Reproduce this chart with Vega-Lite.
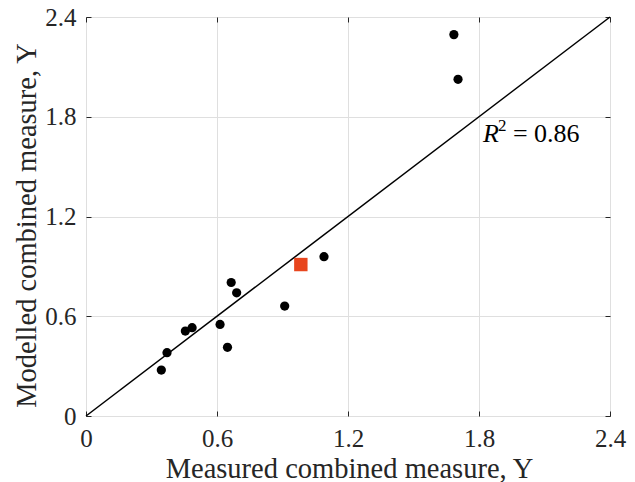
{
  "$schema": "https://vega.github.io/schema/vega-lite/v6.json",
  "width": 524,
  "height": 399,
  "autosize": "none",
  "padding": {"left": 86, "top": 17, "right": 25, "bottom": 66},
  "background": "white",
  "config": {
    "view": {"stroke": "#262626", "strokeWidth": 1},
    "font": "Liberation Serif"
  },
  "datasets": {
    "points": [
      {"measured": 1.685, "modelled": 2.294, "kind": "sample"},
      {"measured": 1.704, "modelled": 2.025, "kind": "sample"},
      {"measured": 1.090, "modelled": 0.958, "kind": "sample"},
      {"measured": 0.665, "modelled": 0.803, "kind": "sample"},
      {"measured": 0.690, "modelled": 0.741, "kind": "sample"},
      {"measured": 0.910, "modelled": 0.661, "kind": "sample"},
      {"measured": 0.614, "modelled": 0.551, "kind": "sample"},
      {"measured": 0.486, "modelled": 0.531, "kind": "sample"},
      {"measured": 0.455, "modelled": 0.511, "kind": "sample"},
      {"measured": 0.648, "modelled": 0.413, "kind": "sample"},
      {"measured": 0.371, "modelled": 0.381, "kind": "sample"},
      {"measured": 0.345, "modelled": 0.276, "kind": "sample"},
      {"measured": 0.984, "modelled": 0.911, "kind": "highlight"}
    ],
    "line": [
      {"measured": 0, "modelled": 0},
      {"measured": 2.4, "modelled": 2.4}
    ],
    "ann": [
      {"measured": 1.818, "modelled": 1.648, "r": "R", "sup": "2", "rest": "= 0.86"}
    ]
  },
  "layer": [
    {
      "data": {"name": "line"},
      "mark": {"type": "line", "color": "black", "strokeWidth": 1.5},
      "encoding": {
        "x": {
          "field": "measured", "type": "quantitative",
          "scale": {"domain": [0, 2.4], "nice": false, "zero": false},
          "axis": {
            "orient": "bottom", "values": [0, 0.6, 1.2, 1.8, 2.4], "format": "~g",
            "labelFont": "Liberation Serif", "labelFontSize": 25, "labelColor": "#262626", "labelFlush": false, "labelOverlap": false,
            "labelPadding": 15, "tickSize": -5, "tickColor": "#262626",
            "grid": true, "gridColor": "#dfdfdf", "domain": false,
            "title": "Measured combined measure, Y", "titleFont": "Liberation Serif", "titleFontSize": 28.5, "titleFontWeight": "normal",
            "titleColor": "#262626", "titleBaseline": "alphabetic", "titleY": 61, "titleX": 263
          }
        },
        "y": {
          "field": "modelled", "type": "quantitative",
          "scale": {"domain": [0, 2.4], "nice": false, "zero": false},
          "axis": {
            "orient": "left", "values": [0, 0.6, 1.2, 1.8, 2.4], "format": "~g",
            "labelFont": "Liberation Serif", "labelFontSize": 25, "labelColor": "#262626", "labelFlush": false, "labelOverlap": false,
            "labelPadding": 15, "tickSize": -5, "tickColor": "#262626",
            "grid": true, "gridColor": "#dfdfdf", "domain": false,
            "title": "Modelled combined measure, Y", "titleFont": "Liberation Serif", "titleFontSize": 28.5, "titleFontWeight": "normal",
            "titleColor": "#262626", "titleBaseline": "alphabetic", "titleAngle": -90, "titleX": -51, "titleY": 208
          }
        }
      }
    },
    {
      "data": {"name": "points"},
      "mark": {"type": "point", "filled": true, "opacity": 1},
      "encoding": {
        "x": {
          "field": "measured", "type": "quantitative",
          "axis": {"orient": "top", "values": [0, 0.6, 1.2, 1.8, 2.4], "labels": false, "title": null,
                   "grid": false, "domain": false, "tickSize": -5, "tickColor": "#262626"}
        },
        "y": {
          "field": "modelled", "type": "quantitative",
          "axis": {"orient": "right", "values": [0, 0.6, 1.2, 1.8, 2.4], "labels": false, "title": null,
                   "grid": false, "domain": false, "tickSize": -5, "tickColor": "#262626"}
        },
        "shape": {"field": "kind", "type": "nominal", "scale": {"domain": ["sample", "highlight"], "range": ["circle", "square"]}, "legend": null},
        "color": {"field": "kind", "type": "nominal", "scale": {"domain": ["sample", "highlight"], "range": ["#000000", "#E8461E"]}, "legend": null},
        "size": {"field": "kind", "type": "nominal", "scale": {"domain": ["sample", "highlight"], "range": [85, 180]}, "legend": null}
      }
    },
    {
      "data": {"name": "ann"},
      "mark": {"type": "text", "align": "left", "baseline": "alphabetic", "fontSize": 26, "fontStyle": "italic", "color": "#000000", "font": "Liberation Serif"},
      "encoding": {
        "x": {"field": "measured", "type": "quantitative", "axis": null},
        "y": {"field": "modelled", "type": "quantitative", "axis": null},
        "text": {"field": "r"}
      }
    },
    {
      "data": {"name": "ann"},
      "mark": {"type": "text", "align": "left", "baseline": "alphabetic", "fontSize": 17, "dx": 15, "dy": -11, "color": "#000000", "font": "Liberation Serif"},
      "encoding": {
        "x": {"field": "measured", "type": "quantitative", "axis": null},
        "y": {"field": "modelled", "type": "quantitative", "axis": null},
        "text": {"field": "sup"}
      }
    },
    {
      "data": {"name": "ann"},
      "mark": {"type": "text", "align": "left", "baseline": "alphabetic", "fontSize": 26, "dx": 30, "color": "#000000", "font": "Liberation Serif"},
      "encoding": {
        "x": {"field": "measured", "type": "quantitative", "axis": null},
        "y": {"field": "modelled", "type": "quantitative", "axis": null},
        "text": {"field": "rest"}
      }
    }
  ],
  "resolve": {"axis": {"x": "independent", "y": "independent"}}
}
